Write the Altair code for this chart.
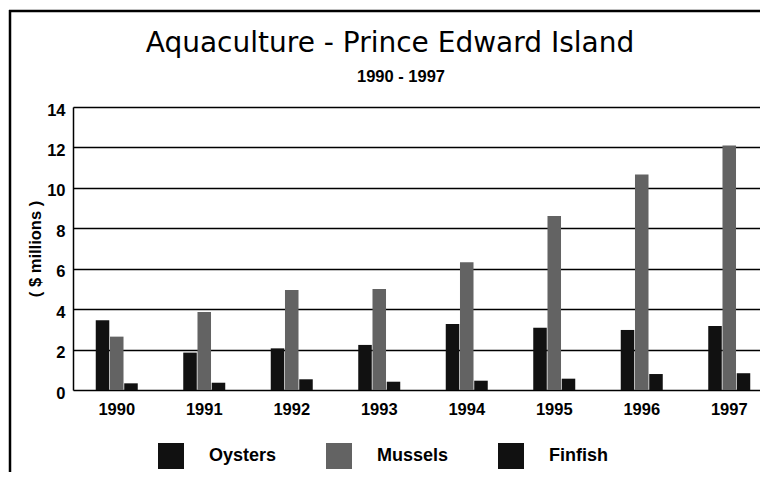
import altair as alt
import pandas as pd

years = ["1990", "1991", "1992", "1993", "1994", "1995", "1996", "1997"]
species = ["Oysters", "Mussels", "Finfish"]
oysters = [3.45, 1.85, 2.06, 2.23, 3.27, 3.08, 2.97, 3.17]
mussels = [2.64, 3.86, 4.95, 5.00, 6.32, 8.61, 10.66, 12.10]
finfish = [0.33, 0.36, 0.53, 0.41, 0.46, 0.56, 0.79, 0.83]
y_ticks = [0, 2, 4, 6, 8, 10, 12, 14]
title_text = "Aquaculture - Prince Edward Island"
subtitle_text = "1990 - 1997"
y_title = "( $ millions )"

rows = []
for i, yr in enumerate(years):
    rows.append({"year": yr, "species": "Oysters", "value": oysters[i]})
    rows.append({"year": yr, "species": "Mussels", "value": mussels[i]})
    rows.append({"year": yr, "species": "Finfish", "value": finfish[i]})
df = pd.DataFrame(rows)

W, H = 687, 283

bars = alt.Chart(df).mark_bar().encode(
    x=alt.X("year:N", sort=years,
            scale=alt.Scale(range=[0, 700], paddingInner=0.52, paddingOuter=0.26),
            axis=alt.Axis(title=None, labelAngle=0, domain=False, ticks=False,
                          labelFont="Liberation Sans", labelFontWeight="bold",
                          labelFontSize=16.5, labelColor="black", labelPadding=11)),
    xOffset=alt.XOffset("species:N", sort=species,
                        scale=alt.Scale(paddingInner=0.05)),
    y=alt.Y("value:Q", scale=alt.Scale(domain=[0, 14], nice=False),
            axis=alt.Axis(values=y_ticks, title=y_title, ticks=False,
                          domainColor="black", domainWidth=1.5,
                          gridColor="black", gridWidth=1.4, grid=True,
                          labelFont="Liberation Sans", labelFontWeight="bold",
                          labelFontSize=16.5, labelColor="black", labelPadding=8,
                          labelOffset=3,
                          titleFont="Liberation Sans", titleFontWeight="bold",
                          titleFontSize=16.5, titleColor="black", titleX=-30)),
    color=alt.Color("species:N", sort=species,
                    scale=alt.Scale(domain=species, range=["#111111", "#636363", "#111111"]),
                    legend=alt.Legend(title=None, orient="none", direction="horizontal",
                                      legendX=85, legendY=336, padding=0,
                                      symbolType="square", symbolSize=676,
                                      symbolStrokeWidth=0, symbolOpacity=1,
                                      labelFont="Liberation Sans", labelFontWeight="bold",
                                      labelFontSize=18, labelColor="black",
                                      labelOffset=25, columnPadding=49)),
)

one = pd.DataFrame({"a": [0]})
t1 = alt.Chart(one).mark_text(font="DejaVu Sans", fontSize=28, color="black",
                              align="center", baseline="alphabetic").encode(
    text=alt.value(title_text), x=alt.value(317), y=alt.value(-55))
t2 = alt.Chart(one).mark_text(font="Liberation Sans", fontSize=16.5, fontWeight="bold",
                              color="black", align="center", baseline="alphabetic").encode(
    text=alt.value(subtitle_text), x=alt.value(328), y=alt.value(-25))

frame_left = alt.Chart(one).mark_rule(color="black", strokeWidth=2.5).encode(
    x=alt.value(-63), y=alt.value(-97), y2=alt.value(370))
frame_top = alt.Chart(one).mark_rule(color="black", strokeWidth=2.5).encode(
    x=alt.value(-64), x2=alt.value(700), y=alt.value(-96))

chart = alt.layer(bars, t1, t2, frame_left, frame_top).properties(
    width=W, height=H,
    autosize=alt.AutoSizeParams(type="none"),
    padding={"left": 65, "top": 99, "right": 0, "bottom": 82},
).configure_view(stroke=None).configure(background="white")

chart.save("out.html", embed_options={"renderer": "svg", "actions": False})
